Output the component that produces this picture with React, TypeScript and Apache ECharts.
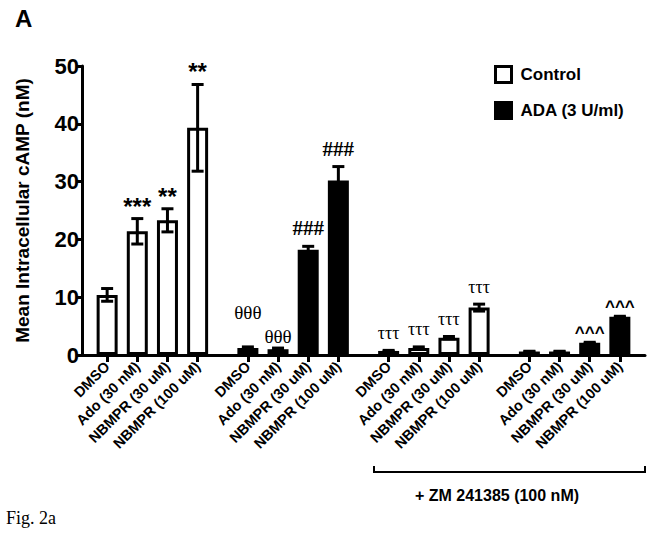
import React, { useEffect, useRef } from 'react';
import * as echarts from 'echarts';

// ---- data ----
const treatments = ['DMSO', 'Ado (30 nM)', 'NBMPR (30 uM)', 'NBMPR (100 uM)'];
const controlMean = [10.4, 21.4, 23.3, 39.3];
const controlErr = [1.1, 2.2, 2.0, 7.5];
const adaMean = [1.2, 1.0, 18.2, 30.2];
const adaErr = [0.2, 0.2, 0.6, 2.4];
const zmControlMean = [0.7, 1.2, 3.0, 8.2];
const zmControlErr = [0.1, 0.2, 0.2, 0.6];
const zmAdaMean = [0.6, 0.6, 2.1, 6.6];
const zmAdaErr = [0.05, 0.05, 0.1, 0.1];
const controlAnnot = ['', '***', '**', '**'];
const adaAnnot = ['θθθ', 'θθθ', '###', '###'];
const zmControlAnnot = ['τττ', 'τττ', 'τττ', 'τττ'];
const zmAdaAnnot = ['', '', '^^^', '^^^'];
const legendNames = ['Control', 'ADA (3 U/ml)'];
const yTicks = [0, 10, 20, 30, 40, 50];
const yAxisTitle = 'Mean Intracellular cAMP (nM)';
const bracketTitle = '+ ZM 241385 (100 nM)';

// ---- layout (slots on a category axis) ----
const LEAD = 2;
const STRIDE = 14;
const STEP = 3;
const TOTAL = 56;

const groups = [
  { series: 0, mean: controlMean, err: controlErr, annot: controlAnnot },
  { series: 1, mean: adaMean, err: adaErr, annot: adaAnnot },
  { series: 0, mean: zmControlMean, err: zmControlErr, annot: zmControlAnnot },
  { series: 1, mean: zmAdaMean, err: zmAdaErr, annot: zmAdaAnnot },
];

const SANS = '"Liberation Sans", Arial, Helvetica, sans-serif';
const SERIF = '"Liberation Serif", "Times New Roman", serif';

function annotStyle(text: string, g: number, i: number) {
  if (text.startsWith('*')) return { fontFamily: SANS, fontWeight: 'bold', fontSize: 24, distance: 0 };
  if (text.startsWith('#')) return { fontFamily: SERIF, fontWeight: 'bold', fontSize: 21, distance: 7 };
  if (text.startsWith('θ')) return { fontFamily: SERIF, fontWeight: 'normal', fontSize: 19, distance: g === 1 && i === 0 ? 24 : 2 };
  if (text.startsWith('τ')) return { fontFamily: SERIF, fontWeight: 'normal', fontSize: 18, distance: 8 };
  return { fontFamily: SANS, fontWeight: 'bold', fontSize: 17, distance: 1 };
}

export default function App() {
  const ref = useRef<HTMLDivElement>(null);
  useEffect(() => {
    if (!ref.current) return;
    const chart = echarts.init(ref.current, undefined, { renderer: 'svg' });

    const cats: string[] = [];
    const labelOf: Record<string, string> = {};
    for (let k = 0; k < TOTAL; k++) cats.push('s' + k);
    const barData: any[][] = [Array(TOTAL).fill('-'), Array(TOTAL).fill('-')];
    const errData: any[] = [];
    const annData: any[] = [];
    groups.forEach((grp, g) => {
      treatments.forEach((t, i) => {
        const slot = LEAD + g * STRIDE + i * STEP;
        labelOf['s' + slot] = t;
        barData[grp.series][slot] = grp.mean[i];
        errData.push([slot, grp.mean[i], grp.err[i]]);
        const a = grp.annot[i];
        if (a) {
          const st = annotStyle(a, g, i);
          annData.push({
            value: [slot, grp.mean[i] + grp.err[i]],
            label: {
              show: true,
              position: 'top',
              formatter: a,
              color: '#000',
              opacity: 1,
              fontFamily: st.fontFamily,
              fontWeight: st.fontWeight,
              fontSize: st.fontSize,
              distance: st.distance,
            },
          });
        }
      });
    });

    const isLabelled = (_idx: number, val: string) => !!labelOf[val];

    chart.setOption({
      animation: false,
      backgroundColor: '#fff',
      textStyle: { fontFamily: SANS },
      grid: { left: 82, right: 9, top: 66, bottom: 179, containLabel: false },
      legend: {
        orient: 'vertical',
        left: 494,
        top: 65,
        padding: 0,
        itemWidth: 16,
        itemHeight: 16,
        itemGap: 17,
        selectedMode: false,
        textStyle: { fontFamily: SANS, fontWeight: 'bold', fontSize: 17, color: '#000', padding: [0, 0, 0, 4] },
        data: [
          { name: legendNames[0], icon: 'rect', itemStyle: { color: '#fff', borderColor: '#000', borderWidth: 3 } },
          { name: legendNames[1], icon: 'rect', itemStyle: { color: '#000', borderColor: '#000', borderWidth: 3 } },
        ],
      },
      xAxis: {
        type: 'category',
        data: cats,
        boundaryGap: true,
        axisLine: { show: true, lineStyle: { color: '#000', width: 3 } },
        axisTick: { show: true, alignWithLabel: true, interval: isLabelled, length: 7, lineStyle: { color: '#000', width: 3 } },
        axisLabel: {
          interval: isLabelled,
          formatter: (v: string) => labelOf[v] || '',
          rotate: 45,
          margin: 9,
          color: '#000',
          fontFamily: SANS,
          fontWeight: 'bold',
          fontSize: 14.5,
        },
        splitLine: { show: false },
      },
      yAxis: {
        type: 'value',
        min: yTicks[0],
        max: yTicks[yTicks.length - 1],
        interval: yTicks[1] - yTicks[0],
        name: yAxisTitle,
        nameLocation: 'middle',
        nameGap: 50,
        nameTextStyle: { fontFamily: SANS, fontWeight: 'bold', fontSize: 19, color: '#000' },
        axisLine: { show: true, lineStyle: { color: '#000', width: 3 } },
        axisTick: { show: true, length: 5, lineStyle: { color: '#000', width: 3 } },
        axisLabel: { color: '#000', fontFamily: SANS, fontWeight: 'bold', fontSize: 22, margin: 3 },
        splitLine: { show: false },
      },
      series: [
        {
          name: legendNames[0],
          type: 'bar',
          data: barData[0],
          barWidth: 21,
          barGap: '-100%',
          itemStyle: { color: '#fff', borderColor: '#000', borderWidth: 3 },
          z: 2,
        },
        {
          name: legendNames[1],
          type: 'bar',
          data: barData[1],
          barWidth: 21,
          barGap: '-100%',
          itemStyle: { color: '#000', borderColor: '#000', borderWidth: 3 },
          z: 2,
        },
        {
          type: 'custom',
          data: errData,
          encode: { x: 0, y: 1 },
          z: 3,
          renderItem: (_p: any, api: any) => {
            const x = api.value(0);
            const m = api.value(1);
            const e = api.value(2);
            const hi = api.coord([x, m + e]);
            const lo = api.coord([x, m - e]);
            const cx = hi[0];
            const half = 6;
            const style = { stroke: '#000', lineWidth: 3 };
            return {
              type: 'group',
              children: [
                { type: 'line', shape: { x1: cx, y1: hi[1], x2: cx, y2: lo[1] }, style },
                { type: 'line', shape: { x1: cx - half, y1: hi[1], x2: cx + half, y2: hi[1] }, style },
                { type: 'line', shape: { x1: cx - half, y1: lo[1], x2: cx + half, y2: lo[1] }, style },
              ],
            };
          },
        },
        {
          type: 'scatter',
          data: annData,
          symbol: 'circle',
          symbolSize: 1,
          itemStyle: { color: '#000', opacity: 1 },
          silent: true,
          z: 1,
        },
      ],
      graphic: [
        { type: 'text', left: 15, top: 6, style: { text: 'A', fontFamily: SANS, fontWeight: 'bold', fontSize: 24, fill: '#000' } },
        {
          type: 'polyline',
          shape: { points: [[374, 466], [374, 472], [645, 472], [645, 466]] },
          style: { stroke: '#000', lineWidth: 2, fill: 'none' },
        },
        {
          type: 'text',
          x: 497,
          y: 495,
          style: { text: bracketTitle, fontFamily: SANS, fontWeight: 'bold', fontSize: 16, fill: '#000', align: 'center', verticalAlign: 'middle' },
        },
        {
          type: 'text',
          x: 6,
          y: 518,
          style: { text: 'Fig. 2a', fontFamily: SERIF, fontSize: 18, fill: '#000', align: 'left', verticalAlign: 'middle' },
        },
      ],
    });
    return () => chart.dispose();
  }, []);
  return <div ref={ref} style={{ position: 'fixed', left: 0, top: 0, width: 654, height: 534, background: '#fff' }} />;
}
